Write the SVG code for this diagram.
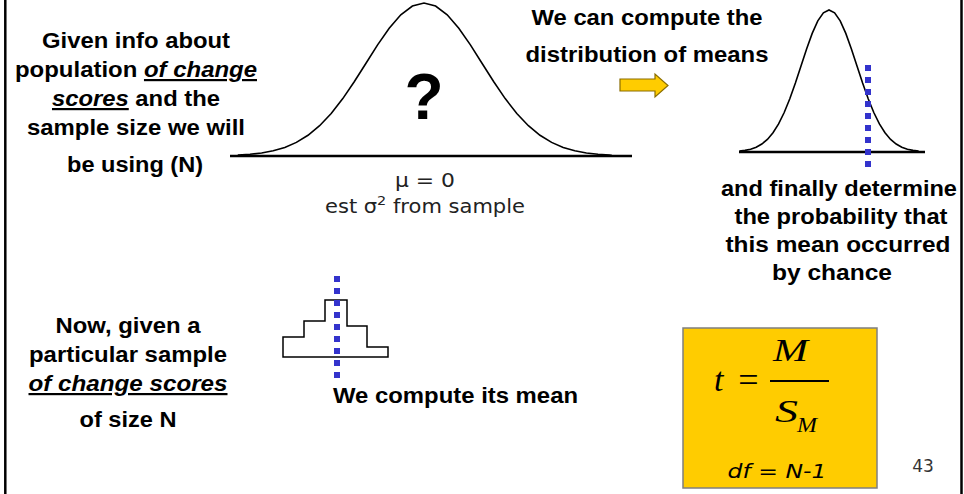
<svg xmlns="http://www.w3.org/2000/svg" width="964" height="494" viewBox="0 0 964 494">
<style>
.lbl{font-family:"Liberation Sans",Arial,sans-serif;font-weight:bold;font-size:22px;fill:#000;text-anchor:middle}
.it{font-style:italic}
.ul{text-decoration:underline}
.sub{font-family:"DejaVu Sans","Liberation Sans",sans-serif;font-size:19px;fill:#222;text-anchor:middle}
.math{font-family:"Liberation Serif","Times New Roman",serif;font-style:italic;fill:#000}
.curve{fill:none;stroke:#000;stroke-width:1.6}
.axis{stroke:#000;stroke-width:2.5}
.mean{stroke:#3333cc;stroke-width:6;stroke-dasharray:6 6}
</style>
<rect width="964" height="494" fill="#fff"/>
<g id="frame">
<line x1="5.3" y1="0" x2="5.3" y2="494" stroke="#000" stroke-width="2.5"/>
<line x1="961.5" y1="0" x2="961.5" y2="494" stroke="#000" stroke-width="2.5"/>
</g>
<g id="population-text">
<text class="lbl" x="136" y="48" textLength="188" lengthAdjust="spacingAndGlyphs">Given info about</text>
<text class="lbl" x="136" y="77" textLength="242" lengthAdjust="spacingAndGlyphs">population <tspan class="it ul">of change</tspan></text>
<text class="lbl" x="136" y="106" textLength="168" lengthAdjust="spacingAndGlyphs"><tspan class="it ul">scores</tspan> and the</text>
<text class="lbl" x="136" y="135" textLength="218" lengthAdjust="spacingAndGlyphs">sample size we will</text>
<text class="lbl" x="135" y="172" textLength="136" lengthAdjust="spacingAndGlyphs">be using (N)</text>
</g>
<g id="population-curve">
<line class="axis" x1="230" y1="156" x2="632" y2="156"/>
<polyline class="curve" points="238,155.5 238.4,155.1 250,154.3 261.6,153 273.2,150.8 284.8,147.4 296.4,142.4 308,135.3 319.6,125.7 331.2,113.5 342.8,98.6 354.4,81.5 366,63.2 377.6,44.9 389.2,28.2 400.8,14.8 412.4,6 424,3 435.6,6 447.2,14.8 458.8,28.2 470.4,44.9 482,63.2 493.6,81.5 505.2,98.6 516.8,113.5 528.4,125.7 540,135.3 551.6,142.4 563.2,147.4 574.8,150.8 586.4,153 598,154.3 609.6,155.1 612,155.5"/>
<text x="424" y="119" font-family="'Liberation Sans',Arial,sans-serif" font-weight="bold" font-size="64" text-anchor="middle">?</text>
<text class="sub" x="425" y="187" textLength="60" lengthAdjust="spacingAndGlyphs">μ = 0</text>
<text class="sub" x="425" y="213" textLength="200" lengthAdjust="spacingAndGlyphs">est σ<tspan font-size="13" dy="-8">2</tspan><tspan dy="8"> from sample</tspan></text>
</g>
<g id="means-text">
<text class="lbl" x="647" y="25" textLength="231" lengthAdjust="spacingAndGlyphs">We can compute the</text>
<text class="lbl" x="647" y="62" textLength="243" lengthAdjust="spacingAndGlyphs">distribution of means</text>
</g>
<g id="connectors">
<path d="M620,79 H655 V74 L668,85.5 L655,97 V91 H620 Z" fill="#ffcc00" stroke="#8a6d00" stroke-width="1.2"/>
</g>
<g id="means-curve">
<line class="axis" x1="739" y1="152" x2="925" y2="152" stroke-width="2"/>
<polyline class="curve" points="739.4,151.1 745,150.4 750.6,149.2 756.2,147.2 761.8,144 767.4,139.4 773,132.8 778.6,123.9 784.2,112.5 789.8,98.7 795.4,82.9 801,65.9 806.6,48.9 812.2,33.4 817.8,20.9 823.4,12.8 829,10 834.6,12.8 840.2,20.9 845.8,33.4 851.4,48.9 857,65.9 862.6,82.9 868.2,98.7 873.8,112.5 879.4,123.9 885,132.8 890.6,139.4 896.2,144 901.8,147.2 907.4,149.2 913,150.4 918.6,151.1"/>
<line class="mean" x1="868" y1="65" x2="868" y2="168"/>
</g>
<g id="probability-text">
<text class="lbl" x="839" y="196" textLength="236" lengthAdjust="spacingAndGlyphs">and finally determine</text>
<text class="lbl" x="841" y="224" textLength="213" lengthAdjust="spacingAndGlyphs">the probability that</text>
<text class="lbl" x="838" y="252" textLength="225" lengthAdjust="spacingAndGlyphs">this mean occurred</text>
<text class="lbl" x="832" y="280" textLength="120" lengthAdjust="spacingAndGlyphs">by chance</text>
</g>
<g id="sample-text">
<text class="lbl" x="128" y="333" textLength="145" lengthAdjust="spacingAndGlyphs">Now, given a</text>
<text class="lbl" x="128" y="362" textLength="198" lengthAdjust="spacingAndGlyphs">particular sample</text>
<text class="lbl it ul" x="128" y="391" textLength="199" lengthAdjust="spacingAndGlyphs">of change scores</text>
<text class="lbl" x="128" y="427" textLength="97" lengthAdjust="spacingAndGlyphs">of size N</text>
</g>
<g id="sample-histogram">
<path d="M283,357 V337 H304 V321 H325 V300 H347 V326 H367 V347 H388 V357 Z" fill="none" stroke="#000" stroke-width="1.5"/>
<line class="mean" x1="337" y1="276" x2="337" y2="379"/>
<text class="lbl" x="333" y="403" text-anchor="start" style="text-anchor:start" textLength="245" lengthAdjust="spacingAndGlyphs">We compute its mean</text>
</g>
<g id="formula">
<rect x="683" y="328" width="194" height="160" fill="#ffcc00" stroke="#7f7f7f" stroke-width="1.5"/>
<text class="math" x="714" y="391" font-size="34">t</text>
<text x="748.5" y="392" font-family="'Liberation Serif','Times New Roman',serif" font-size="36" text-anchor="middle">=</text>
<line x1="770" y1="381" x2="829" y2="381" stroke="#000" stroke-width="2"/>
<text class="math" x="773" y="361" font-size="31" textLength="35" lengthAdjust="spacingAndGlyphs">M</text>
<text class="math" x="775" y="422" font-size="31" textLength="23" lengthAdjust="spacingAndGlyphs">S</text>
<text class="math" x="797" y="432" font-size="20" textLength="20" lengthAdjust="spacingAndGlyphs">M</text>
<text x="777" y="478" font-family="'DejaVu Sans','Liberation Sans',sans-serif" font-style="italic" font-size="20" text-anchor="middle" textLength="99" lengthAdjust="spacingAndGlyphs">df = N-1</text>
</g>
<g id="page-number">
<text x="923" y="472" font-family="'DejaVu Sans','Liberation Sans',sans-serif" font-size="17" fill="#333" text-anchor="middle">43</text>
</g>
</svg>
